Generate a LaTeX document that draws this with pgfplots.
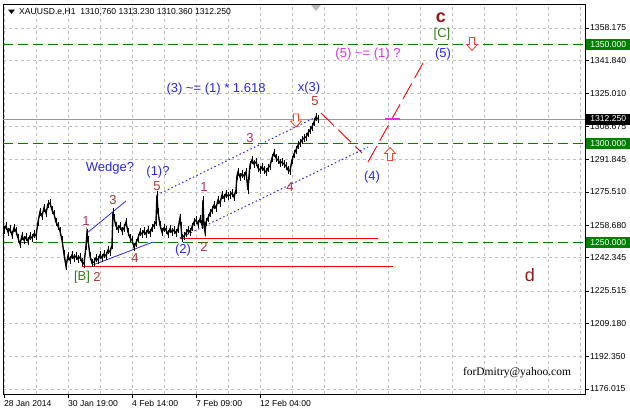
\documentclass[border=0pt]{standalone}
\usepackage{fontspec}
\setmainfont{Liberation Sans}
\newfontfamily\seriffont{Liberation Serif}
\usepackage{pgfplots}
\pgfplotsset{compat=1.18}
\definecolor{mtgreen}{RGB}{0,128,0}
\definecolor{wblue}{RGB}{40,40,255}
\definecolor{wmag}{RGB}{235,40,235}
\definecolor{wbrown}{RGB}{175,55,45}
\definecolor{wcrim}{RGB}{195,40,95}
\definecolor{cdark}{RGB}{150,25,25}
\definecolor{bgreen}{RGB}{50,125,20}
\definecolor{gridgray}{RGB}{190,190,190}
\definecolor{mtred}{RGB}{255,0,0}
\definecolor{arrred}{RGB}{255,60,40}
\pgfplotstableread{
x y
4 1256.25
6 1258.26
8 1255.24
10 1256.75
12 1253.72
14 1257.26
16 1255.74
18 1252.21
20 1249.18
22 1253.22
24 1251.20
26 1252.71
28 1250.70
30 1253.22
32 1252.21
34 1254.23
36 1253.22
38 1260.28
40 1265.33
42 1263.31
44 1267.35
46 1264.82
48 1269.37
50 1269.87
52 1266.34
54 1264.32
56 1260.28
58 1258.26
60 1255.74
62 1251.20
64 1244.13
66 1238.08
68 1243.12
70 1241.11
72 1243.63
74 1242.12
76 1243.12
78 1241.61
80 1242.62
82 1240.10
84 1239.09
86 1248.17
87 1254.73
88 1251.20
90 1243.12
92 1239.59
94 1240.10
96 1242.12
98 1241.11
100 1243.63
102 1242.12
104 1244.13
106 1243.12
108 1246.15
110 1245.14
112 1248.68
113 1265.33
114 1262.30
116 1258.26
118 1256.75
120 1258.26
122 1255.74
124 1257.26
126 1260.28
128 1255.24
130 1252.21
132 1251.20
134 1247.67
136 1249.69
138 1252.21
140 1255.24
142 1254.23
144 1255.74
146 1254.23
148 1256.25
150 1254.73
152 1257.26
154 1258.77
156 1260.28
157 1273.91
158 1265.33
160 1258.77
162 1255.24
164 1257.26
166 1256.25
168 1254.23
170 1256.75
172 1255.24
174 1256.25
176 1254.73
178 1256.75
180 1262.30
181 1258.26
182 1252.21
184 1253.22
186 1254.73
188 1256.25
190 1255.24
192 1257.76
194 1260.28
196 1261.29
198 1259.27
200 1261.80
202 1258.77
203 1271.38
204 1258.26
205 1255.24
206 1260.28
208 1262.30
210 1264.82
212 1266.34
214 1268.86
216 1267.35
218 1271.38
220 1269.87
222 1273.91
224 1272.39
226 1274.41
228 1273.40
230 1273.91
232 1274.92
234 1272.90
236 1276.43
237 1283.49
238 1285.51
240 1282.99
242 1284.50
244 1283.49
246 1285.51
248 1276.43
249 1283.49
250 1289.04
252 1291.57
254 1289.55
256 1290.56
258 1287.53
260 1286.52
262 1288.04
264 1286.52
266 1285.51
268 1287.53
270 1288.54
272 1292.58
274 1295.10
276 1292.58
278 1291.57
280 1290.05
282 1290.56
284 1289.55
286 1288.54
288 1286.52
290 1286.02
292 1291.57
294 1294.60
296 1296.61
298 1299.14
300 1300.15
302 1301.66
304 1302.67
306 1303.17
308 1305.19
310 1306.70
312 1308.22
314 1310.74
316 1313.27
318 1312.26
}\pricedata
\begin{document}
\begin{tikzpicture}[x=1pt,y=1pt]
\useasboundingbox (0,0) rectangle (630,412);
\fill[white] (0,0) rectangle (630,412);
\begin{axis}[
  at={(3pt,18pt)}, anchor=south west, scale only axis,
  width=582pt, height=390pt,
  xmin=3, xmax=585, ymin=1173.49, ymax=1370.29,
  clip=false,
  axis line style={black, line width=0.8pt},
  tick align=outside, major tick length=4pt,
  tick style={black, line width=0.6pt},
  xtick pos=bottom, ytick pos=right, yticklabel pos=right,
  xtick={4,68,132,196,260},
  xticklabels={28 Jan 2014,30 Jan 19:00,4 Feb 14:00,7 Feb 09:00,12 Feb 04:00},
  extra x ticks={36,100,164,228,292,324,356,388,420,452,484,516,548,580},
  extra x tick labels={},
  extra x tick style={major tick length=0pt, grid=major},
  ytick={1176.015,1192.35,1209.18,1225.515,1242.345,1258.68,1275.51,1291.845,1308.675,1325.01,1341.84,1358.175},
  xmajorgrids, ymajorgrids,
  grid style={gridgray, dash pattern=on 3pt off 3pt, line width=0.6pt},
  /pgf/number format/.cd, fixed, fixed zerofill, precision=3, 1000 sep={}, assume math mode=true,
  /pgfplots/.cd,
  tick label style={font=\fontsize{8.6}{10}\selectfont, inner sep=0pt},
  xticklabel style={anchor=north west, yshift=-2pt},
  yticklabel style={anchor=west, xshift=1pt},
]
% reference horizontal lines
\addplot[gridgray!80!black, line width=0.7pt] coordinates {(3,1312.25) (585,1312.25)};
\addplot[mtgreen, line width=1pt, dash pattern=on 10pt off 5pt] coordinates {(3,1350) (585,1350)};
\addplot[mtgreen, line width=1pt, dash pattern=on 10pt off 5pt] coordinates {(3,1300) (585,1300)};
\addplot[mtgreen, line width=1pt, dash pattern=on 10pt off 5pt] coordinates {(3,1250) (585,1250)};
% red horizontal support lines
\addplot[draw=mtred, line width=0.9pt] coordinates {(180,1252.21) (378,1252.21)};
\addplot[draw=mtred, line width=0.9pt] coordinates {(82,1238.08) (393,1238.08)};
% wedge lines
\addplot[wblue, line width=0.8pt] coordinates {(87,1254.73) (126,1270.88)};
\addplot[wblue, line width=0.8pt] coordinates {(93,1238.58) (153,1250.19)};
% channel lines
\addplot[wblue, line width=1pt, dash pattern=on 1.5pt off 2.5pt] coordinates {(157,1273.91) (316,1313.27)};
\addplot[wblue, line width=1pt, dash pattern=on 1.5pt off 2.5pt] coordinates {(180,1252.21) (368,1298.13)};
% price
\addplot[black, line width=1.4pt, error bars/.cd, y dir=both, y fixed=1.9, error mark=none] table[x=x,y=y] {\pricedata};
% projections
\addplot[draw=mtred, line width=0.9pt, dash pattern=on 18pt off 6pt] coordinates {(321,1315.28) (362,1295.10)};
\addplot[draw=mtred, line width=0.9pt, dash pattern=on 18pt off 6pt] coordinates {(368,1290.56) (423,1340.51)};
\addplot[wmag, line width=1.5pt] coordinates {(385,1312.26) (400,1312.26)};
% hollow arrows
\draw[arrred, fill=white, line width=0.8pt, line join=miter] (axis cs:296,1311.5) ++(-2.5pt,6.5pt) -- ++(5pt,0pt) -- ++(0pt,-7pt) -- ++(3pt,0pt) -- ++(-5.5pt,-6pt) -- ++(-5.5pt,6pt) -- ++(3pt,0pt) -- cycle;
\draw[arrred, fill=white, line width=0.8pt, line join=miter] (axis cs:472,1350.1) ++(-2.5pt,6.5pt) -- ++(5pt,0pt) -- ++(0pt,-7pt) -- ++(3pt,0pt) -- ++(-5.5pt,-6pt) -- ++(-5.5pt,6pt) -- ++(3pt,0pt) -- cycle;
\draw[arrred, fill=white, line width=0.8pt, line join=miter] (axis cs:390,1294.6) ++(-2.5pt,-6.5pt) -- ++(5pt,0pt) -- ++(0pt,7pt) -- ++(3pt,0pt) -- ++(-5.5pt,6pt) -- ++(-5.5pt,-6pt) -- ++(3pt,0pt) -- cycle;
% labels
\begin{scope}[every node/.style={font=\fontsize{13}{15}\selectfont, inner sep=0pt}]
\node[text=wblue] at (axis cs:216,1327.39) {(3) \textasciitilde= (1) * 1.618};
\node[text=wblue] at (axis cs:309,1327.9) {x(3)};
\node[text=wbrown] at (axis cs:315,1321.34) {5};
\node[text=wmag] at (axis cs:368,1345.05) {(5) \textasciitilde= (1) ?};
\node[text=bgreen] at (axis cs:442,1355.15) {[C]};
\node[text=wblue] at (axis cs:443,1345.05) {(5)};
\node[text=wblue] at (axis cs:372,1282.99) {(4)};
\node[text=wblue] at (axis cs:110,1287.53) {Wedge?};
\node[text=wblue] at (axis cs:158,1285.51) {(1)?};
\node[text=wbrown] at (axis cs:157,1278.45) {5};
\node[text=wbrown] at (axis cs:113,1271.38) {3};
\node[text=wcrim] at (axis cs:86,1260.79) {1};
\node[text=wbrown] at (axis cs:135,1242.12) {4};
\node[text=wblue] at (axis cs:183,1246.15) {(2)};
\node[text=wbrown] at (axis cs:204,1247.67) {2};
\node[text=wcrim] at (axis cs:204,1277.94) {1};
\node[text=wcrim] at (axis cs:250,1302.67) {3};
\node[text=wbrown] at (axis cs:290,1277.94) {4};
\node[text=bgreen] at (axis cs:82,1232.53) {[B]};
\node[text=wbrown] at (axis cs:97,1232.53) {2};
\end{scope}
\node[text=cdark, font=\fontsize{18}{20}\selectfont\bfseries, inner sep=0pt] at (axis cs:441,1363.6) {c};
\node[text=cdark, font=\fontsize{18}{20}\selectfont, inner sep=0pt] at (axis cs:530,1233.54) {d};
\node[font=\seriffont\fontsize{11.5}{13}\selectfont, inner sep=0pt] at (axis cs:517,1184.09) {forDmitry@yahoo.com};
% header
\fill[black] (axis cs:8,1367.5) -- (axis cs:15,1367.5) -- (axis cs:11.5,1365.3) -- cycle;
\node[anchor=west, font=\fontsize{8.6}{10}\selectfont, inner sep=0pt] at (axis cs:19,1366.3) {XAUUSD.e,H1\ \ 1310.760 1313.230 1310.360 1312.250};
\fill[gray!55] (axis cs:311,1369.78) -- (axis cs:321,1369.78) -- (axis cs:316,1366.75) -- cycle;
% price boxes on the right scale
\begin{scope}[every node/.style={anchor=west, inner sep=0pt, minimum height=11pt, minimum width=44pt, text=white, font=\fontsize{8.6}{10}\selectfont}]
\node[fill=mtgreen] at (axis cs:586,1350) {1350.000};
\node[fill=mtgreen] at (axis cs:586,1300) {1300.000};
\node[fill=mtgreen] at (axis cs:586,1250) {1250.000};
\node[fill=black] at (axis cs:586,1312.25) {1312.250};
\end{scope}
\end{axis}
\end{tikzpicture}
\end{document}
